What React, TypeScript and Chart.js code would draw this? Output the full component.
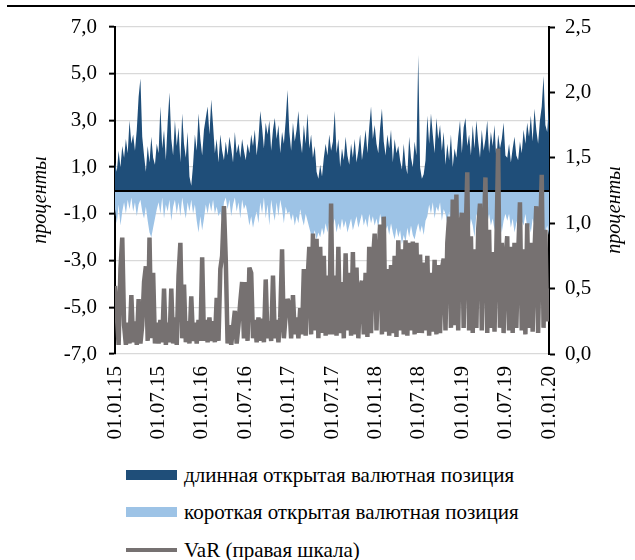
import React, { useEffect, useRef } from "react";
import { Chart, registerables } from "chart.js";

Chart.register(...registerables);

// Tick labels of the time axis (every six months)
const dateLabels = [
  "01.01.15", "01.07.15", "01.01.16", "01.07.16", "01.01.17", "01.07.17",
  "01.01.18", "01.07.18", "01.01.19", "01.07.19", "01.01.20",
];

// Left-axis ticks (percent) and right-axis ticks (VaR, percent)
const leftTicks = [-7, -5, -3, -1, 1, 3, 5, 7];
const rightTicks = [0, 0.5, 1.0, 1.5, 2.0, 2.5];

// Long open currency position, % (48 observations a year, one row per half-year)
const longPosition = [
  1.2, 0.8, 1.7, 1.0, 1.9, 1.4, 2.2, 1.6, 3.0, 2.0, 2.4, 1.7, 2.6, 4.0, 4.8, 2.3, 1.5, 0.8, 1.9, 1.2, 2.3, 1.4, 1.1, 2.0,
  1.6, 3.6, 1.8, 2.6, 1.3, 2.9, 4.2, 2.2, 1.5, 3.0, 1.9, 2.7, 1.2, 3.3, 2.0, 1.4, 2.5, 0.6, 0.2, 1.1, 2.4, 1.7, 3.3, 2.2,
  1.5, 2.6, 3.1, 3.6, 2.4, 3.9, 2.8, 1.6, 2.2, 1.2, 2.4, 1.7, 1.3, 2.1, 1.5, 2.3, 1.8, 1.2, 2.5, 1.6, 2.0, 1.4, 2.2, 1.7,
  1.3, 2.0, 1.6, 2.4, 1.9, 2.6, 1.5, 2.2, 3.4, 2.7, 1.8, 2.9, 2.4, 3.0, 1.7, 2.6, 3.1, 2.2, 2.8, 1.6, 2.5, 2.0, 3.0, 4.3,
  2.5, 1.7, 2.9, 2.1, 2.6, 3.4, 2.2, 1.6, 2.8, 2.0, 3.3, 1.8, 2.4, 1.4, 1.9, 0.8, 0.5, 1.1, 0.6, 1.4, 2.0, 1.5, 2.4, 1.7,
  2.1, 3.4, 1.6, 2.2, 1.0, 1.8, 1.3, 2.3, 1.5, 1.1, 2.0, 1.4, 2.2, 1.2, 1.7, 2.4, 1.3, 1.9, 2.6, 1.6, 2.7, 3.6, 2.2, 2.8,
  2.0, 1.6, 2.7, 3.5, 2.1, 1.5, 2.4, 1.8, 2.6, 1.2, 2.2, 1.6, 1.9, 1.3, 0.9, 2.0, 1.1, 0.7, 2.3, 1.4, 1.0, 2.1, 1.5, 5.8,
  1.0, 0.5, 0.7, 1.3, 3.2, 2.0, 3.3, 2.4, 1.6, 3.1, 2.2, 2.8, 1.7, 2.5, 1.1, 2.0, 1.3, 2.4, 1.0, 1.8, 1.4, 2.3, 3.0, 1.6,
  2.7, 3.1, 1.9, 2.4, 1.5, 2.8, 1.8, 3.0, 2.1, 1.4, 2.6, 1.7, 2.2, 3.0, 1.6, 2.5, 1.9, 2.8, 1.3, 2.4, 1.8, 2.2, 2.9, 1.5,
  1.4, 2.0, 1.2, 1.8, 2.3, 1.5, 1.3, 2.1, 1.6, 2.6, 2.0, 2.9, 2.3, 3.2, 2.1, 3.5, 2.6, 2.0, 3.0, 3.6, 4.9, 2.8, 2.5, 3.7,
];

// Short open currency position, %
const shortPosition = [
  -0.8, -1.4, -0.6, -1.5, -0.9, -0.5, -1.0, -0.4, -0.8, -0.3, -0.9, -0.5, -1.1, -0.6, -0.4, -0.9, -1.2, -0.7, -1.3, -1.8, -2.0, -1.6, -1.2, -0.8,
  -0.5, -1.0, -0.3, -1.2, -0.6, -0.9, -0.4, -1.3, -0.7, -0.4, -1.0, -0.5, -1.1, -0.3, -0.8, -1.2, -0.5, -0.9, -0.4, -1.0, -0.6, -1.3, -1.8, -1.1,
  -1.7, -1.2, -0.6, -1.0, -0.5, -0.9, -0.4, -1.0, -0.7, -1.1, -0.9, -1.3, -0.5, -0.3, -0.8, -0.4, -1.1, -0.6, -0.3, -0.9, -0.5, -1.2, -0.4, -0.8,
  -0.6, -1.0, -1.5, -1.1, -1.6, -1.2, -0.9, -1.4, -0.5, -1.0, -0.3, -1.2, -0.6, -1.5, -0.4, -0.9, -1.3, -0.5, -1.1, -0.4, -0.8, -1.4, -0.7, -1.0,
  -0.9, -1.3, -1.0, -1.5, -1.1, -1.4, -0.8, -1.2, -1.5, -1.0, -1.3, -1.6, -1.9, -2.0, -1.7, -2.1, -1.8, -2.0, -1.6, -1.9, -1.4, -1.8, -1.3, -1.6,
  -1.5, -1.2, -1.8, -1.4, -1.7, -1.2, -1.6, -1.3, -1.8, -1.5, -1.2, -1.7, -1.4, -1.1, -1.6, -1.3, -1.0, -1.5, -1.2, -1.6, -1.0, -1.4, -1.1, -1.5,
  -1.2, -1.6, -1.0, -1.4, -1.3, -1.7, -1.5, -1.9, -1.4, -1.8, -2.1, -1.6, -2.0, -1.7, -2.3, -1.9, -2.2, -1.6, -2.0, -1.5, -1.9, -2.1, -1.7, -1.4,
  -1.8, -1.5, -1.9, -1.3, -1.1, -0.6, -1.0, -0.5, -1.2, -0.7, -0.9, -0.5, -1.3, -0.8, -1.0, -1.4, -0.9, -1.6, -1.1, -0.8, -1.5, -1.2, -1.0, -1.6,
  -1.1, -1.4, -0.9, -1.8, -1.2, -1.5, -2.0, -1.0, -1.3, -0.8, -1.6, -1.1, -1.9, -1.4, -1.0, -1.5, -1.2, -1.7, -0.9, -1.4, -1.1, -1.8, -1.3, -1.0,
  -1.3, -1.0, -1.6, -1.2, -1.8, -1.4, -1.1, -1.7, -1.3, -1.5, -1.0, -1.6, -1.4, -1.8, -1.2, -1.5, -1.7, -1.9, -1.5, -2.0, -1.6, -1.8, -1.5, -1.9,
];

// VaR, % (right scale)
const varValues = [
  0.52, 0.30, 0.07, 0.65, 0.89, 0.22, 0.07, 0.24, 0.08, 0.45, 0.09, 0.25, 0.07, 0.42, 0.08, 0.22, 0.55, 0.67, 0.10, 0.89, 0.12, 0.62, 0.08, 0.24,
  0.08, 0.26, 0.09, 0.50, 0.07, 0.24, 0.09, 0.50, 0.08, 0.28, 0.07, 0.60, 0.85, 0.12, 0.53, 0.09, 0.25, 0.08, 0.44, 0.10, 0.24, 0.08, 0.26, 0.10,
  0.74, 0.10, 0.26, 0.09, 0.28, 0.10, 0.25, 0.09, 0.43, 0.10, 0.65, 0.75, 1.13, 0.72, 0.08, 0.22, 0.07, 0.20, 0.33, 0.08, 0.22, 0.40, 0.55, 0.12,
  0.55, 0.10, 0.66, 0.62, 0.12, 0.26, 0.09, 0.28, 0.10, 0.27, 0.09, 0.57, 0.12, 0.25, 0.10, 0.60, 0.12, 0.26, 0.09, 0.28, 0.80, 0.12, 0.30, 0.42,
  0.38, 0.12, 0.45, 0.15, 0.28, 0.12, 0.35, 0.15, 0.65, 0.14, 0.55, 0.82, 0.15, 0.92, 0.18, 0.88, 0.12, 0.82, 0.16, 0.75, 0.14, 0.60, 0.15, 1.15,
  0.15, 0.60, 0.14, 0.82, 0.16, 0.55, 0.12, 0.77, 0.18, 0.62, 0.14, 0.78, 0.15, 0.66, 0.12, 0.50, 0.56, 0.15, 0.62, 0.13, 0.82, 0.16, 0.70, 0.92,
  0.18, 0.72, 0.99, 0.15, 1.05, 0.17, 0.65, 0.14, 0.68, 0.16, 0.75, 0.13, 0.87, 0.18, 0.80, 0.15, 0.87, 0.14, 0.85, 0.18, 0.86, 0.15, 0.85, 0.16,
  0.76, 0.16, 0.70, 0.18, 0.75, 0.14, 0.62, 0.17, 0.72, 0.15, 0.68, 0.16, 0.65, 0.73, 0.18, 0.85, 1.05, 0.20, 1.18, 0.22, 1.22, 0.18, 0.95, 1.08,
  0.20, 0.85, 1.39, 0.18, 0.90, 0.16, 0.80, 0.20, 0.95, 1.15, 0.18, 0.85, 1.35, 0.16, 0.95, 0.20, 0.78, 0.17, 0.80, 1.57, 0.20, 0.85, 0.16, 0.72,
  0.90, 0.18, 0.82, 0.16, 0.85, 0.20, 0.75, 1.16, 0.18, 0.80, 0.15, 1.00, 0.20, 0.85, 0.17, 0.78, 1.13, 0.16, 0.85, 1.37, 0.20, 0.95, 0.25, 0.50,
];

const seriesNames = [
  "длинная открытая валютная позиция",
  "короткая открытая валютная позиция",
  "VaR (правая шкала)",
];
const axisTitle = "проценты";

const LONG_COLOR = "#1f4e79";
const SHORT_COLOR = "#9dc3e6";
const VAR_COLOR = "#767171";
const FONT_FAMILY = "'Liberation Serif', 'Times New Roman', serif";

const W = 635;
const CANVAS_H = 455;
const MONTHS = 60;

const fmt = (v: number) => v.toFixed(1).replace(".", ",");

// Spread observations evenly over the five-year span (x in months)
const toPoints = (vals: number[]) =>
  vals.map((v, i) => ({ x: (i * MONTHS) / (vals.length - 1), y: v }));

const decorPlugin = {
  id: "decor",
  beforeDatasetDraw(chart: any, args: any) {
    // zero line goes above the areas but under the VaR line
    if (args.index !== 2) return;
    const { ctx, chartArea, scales } = chart;
    const y = Math.round(scales.y.getPixelForValue(0));
    ctx.save();
    ctx.strokeStyle = "#000";
    ctx.lineWidth = 2;
    ctx.beginPath();
    ctx.moveTo(chartArea.left, y);
    ctx.lineTo(chartArea.right, y);
    ctx.stroke();
    ctx.restore();
  },
  afterDraw(chart: any) {
    const { ctx } = chart;
    const drawTitle = (x: number, y: number) => {
      ctx.save();
      ctx.translate(x, y);
      ctx.rotate(-Math.PI / 2);
      ctx.font = `italic 20px ${FONT_FAMILY}`;
      ctx.fillStyle = "#000";
      ctx.textAlign = "center";
      ctx.textBaseline = "middle";
      ctx.fillText(axisTitle, 0, 0);
      ctx.restore();
    };
    drawTitle(41, 200);
    drawTitle(615, 210);
  },
};

function LegendRow({ top, kind, color, text }: { top: number; kind: "box" | "line"; color: string; text: string }) {
  return (
    <div
      style={{
        position: "absolute",
        left: 126,
        top: top - 13,
        height: 26,
        display: "flex",
        alignItems: "center",
        whiteSpace: "nowrap",
      }}
    >
      <div
        style={{
          width: 51,
          height: kind === "box" ? 10 : 4,
          background: color,
          marginRight: 7,
        }}
      />
      <span style={{ fontFamily: FONT_FAMILY, fontSize: 21, lineHeight: "26px", color: "#000" }}>{text}</span>
    </div>
  );
}

export default function App() {
  const canvasRef = useRef<HTMLCanvasElement | null>(null);

  useEffect(() => {
    const canvas = canvasRef.current;
    if (!canvas) return;
    const font = { family: FONT_FAMILY, size: 21 };
    const chart = new Chart(canvas, {
      type: "line",
      data: {
        datasets: [
          {
            label: seriesNames[0],
            data: toPoints(longPosition),
            yAxisID: "y",
            backgroundColor: LONG_COLOR,
            borderColor: "transparent",
            borderWidth: 0,
            pointRadius: 0,
            fill: "origin",
            tension: 0,
            order: 2,
          },
          {
            label: seriesNames[1],
            data: toPoints(shortPosition),
            yAxisID: "y",
            backgroundColor: SHORT_COLOR,
            borderColor: "transparent",
            borderWidth: 0,
            pointRadius: 0,
            fill: "origin",
            tension: 0,
            order: 1,
          },
          {
            label: seriesNames[2],
            data: toPoints(varValues),
            yAxisID: "y1",
            borderColor: VAR_COLOR,
            backgroundColor: VAR_COLOR,
            borderWidth: 4.5,
            borderJoinStyle: "bevel",
            pointRadius: 0,
            fill: false,
            tension: 0,
            order: 0,
          },
        ],
      },
      options: {
        animation: false,
        responsive: false,
        maintainAspectRatio: false,
        layout: { padding: { top: 27, left: 0, right: 0, bottom: 0 } },
        plugins: {
          legend: { display: false },
          tooltip: { enabled: false },
        },
        scales: {
          x: {
            type: "linear",
            min: 0,
            max: MONTHS,
            afterBuildTicks: (s: any) => {
              s.ticks = dateLabels.map((_, k) => ({ value: k * 6 }));
            },
            afterFit: (s: any) => {
              s.height = CANVAS_H - 354;
            },
            ticks: {
              autoSkip: false,
              minRotation: 90,
              maxRotation: 90,
              padding: 12,
              color: "#000",
              font,
              callback: (v: any) => dateLabels[Math.round(Number(v) / 6)],
            },
            grid: { display: false, drawTicks: false },
            border: { display: false },
          },
          y: {
            position: "left",
            min: -7,
            max: 7,
            afterBuildTicks: (s: any) => {
              s.ticks = leftTicks.map((v) => ({ value: v }));
            },
            afterFit: (s: any) => {
              s.width = 115;
            },
            ticks: {
              padding: 12,
              color: "#000",
              font,
              callback: (v: any) => fmt(Number(v)),
            },
            grid: {
              color: "#d9d9d9",
              lineWidth: 1.3,
              tickColor: "#000",
              tickLength: 6,
              tickWidth: 2,
            },
            border: { color: "#000", width: 2 },
          },
          y1: {
            position: "right",
            min: 0,
            max: 2.5,
            afterBuildTicks: (s: any) => {
              s.ticks = rightTicks.map((v) => ({ value: v }));
            },
            afterFit: (s: any) => {
              s.width = W - 549;
            },
            ticks: {
              padding: 10,
              color: "#000",
              font,
              callback: (v: any) => fmt(Number(v)),
            },
            grid: {
              drawOnChartArea: false,
              tickColor: "#000",
              tickLength: 6,
              tickWidth: 2,
            },
            border: { color: "#000", width: 2 },
          },
        },
      },
      plugins: [decorPlugin],
    } as any);
    return () => chart.destroy();
  }, []);

  return (
    <div
      style={{
        position: "fixed",
        left: 0,
        top: 0,
        width: W,
        height: 560,
        overflow: "hidden",
        background: "#fff",
      }}
    >
      <div style={{ position: "absolute", left: 7, top: 5, width: W - 7, height: 2, background: "#000" }} />
      <canvas ref={canvasRef} width={W} height={CANVAS_H} style={{ position: "absolute", left: 0, top: 0 }} />
      <LegendRow top={475} kind="box" color={LONG_COLOR} text={seriesNames[0]} />
      <LegendRow top={512} kind="box" color={SHORT_COLOR} text={seriesNames[1]} />
      <LegendRow top={550} kind="line" color={VAR_COLOR} text={seriesNames[2]} />
    </div>
  );
}
